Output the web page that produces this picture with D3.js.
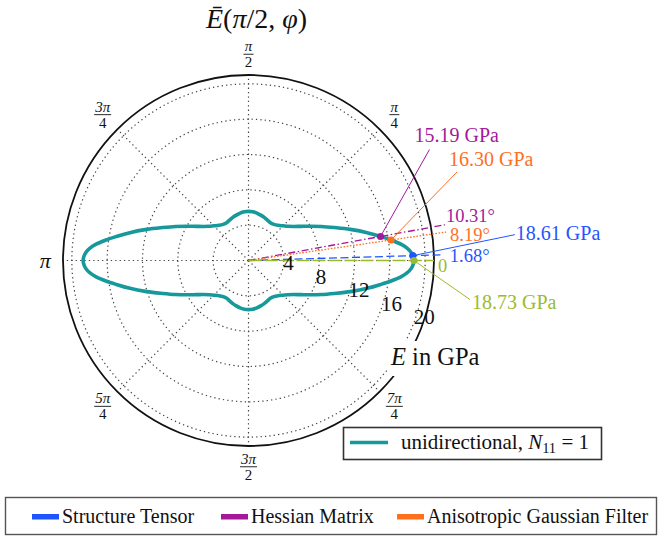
<!DOCTYPE html>
<html>
<head>
<meta charset="utf-8">
<script src="https://cdn.jsdelivr.net/npm/d3@7/dist/d3.min.js"></script>
<style>
  html, body { margin: 0; padding: 0; background: #fff; }
  svg { display: block; }
  text { font-family: "Liberation Serif", "Times New Roman", serif; fill: #111; }
</style>
</head>
<body>
<svg id="chart" width="662" height="541"></svg>
<script>
// Directional Young's modulus E(pi/2, phi) of the unidirectional layup, first quadrant
// (the curve is mirror-symmetric about both axes).
const phiDeg  = [0, 1.68, 3, 4.5, 6, 8.19, 10.31, 13, 17, 21, 25, 29, 33, 37, 41, 45, 50, 55, 60, 65, 70, 75, 80, 85, 90];
const modulus = [18.73, 18.61, 18.4, 18.0, 17.4, 16.30, 15.19, 13.9, 12.05, 10.4, 9.1, 8.0, 7.1, 6.4, 5.9, 5.55, 5.2, 5.0, 4.95, 5.05, 5.2, 5.32, 5.45, 5.53, 5.56];

// Fibre orientation found by each method
const methods      = ["Structure Tensor", "Hessian Matrix", "Anisotropic Gaussian Filter", "reference"];
const methodAngle  = [1.68, 10.31, 8.19, 0];
const methodE      = [18.61, 15.19, 16.30, 18.73];
const angleLabels  = ["1.68°", "10.31°", "8.19°", "0"];
const valueLabels  = ["18.61 GPa", "15.19 GPa", "16.30 GPa", "18.73 GPa"];

// Axis ticks
const radialTicks = [4, 8, 12, 16, 20];
const angularTicks = [
  {deg: 0,   num: null, den: null},
  {deg: 45,  num: "π",  den: "4"},
  {deg: 90,  num: "π",  den: "2"},
  {deg: 135, num: "3π", den: "4"},
  {deg: 180, num: "π",  den: null},
  {deg: 225, num: "5π", den: "4"},
  {deg: 270, num: "3π", den: "2"},
  {deg: 315, num: "7π", den: "4"}
];

const svg = d3.select("#chart");
const cx = 248.5, cy = 260.5;
const rMax = 21;
const r = d3.scaleLinear().domain([0, rMax]).range([0, 185.5]);
const rad = d => d * Math.PI / 180;
const px = (e, deg) => cx + r(e) * Math.cos(rad(deg));
const py = (e, deg) => cy - r(e) * Math.sin(rad(deg));

const colors = {
  teal: "#16999a",
  "Structure Tensor": "#1f55ff",
  "Hessian Matrix": "#a3199a",
  "Anisotropic Gaussian Filter": "#ff6f1c",
  reference: "#9cbb2c"
};
const dashes = {
  "Structure Tensor": "8,3.5",
  "Hessian Matrix": "7,2.5,1.5,2.5",
  "Anisotropic Gaussian Filter": "1.6,1.6",
  reference: "13,3"
};

const g = svg.append("g");

// Grid: dotted rings and spokes
g.selectAll("circle.ring").data(radialTicks).join("circle")
  .attr("class", "ring")
  .attr("cx", cx).attr("cy", cy).attr("r", d => r(d))
  .attr("fill", "none").attr("stroke", "#444").attr("stroke-width", 1.2)
  .attr("stroke-dasharray", "1.3,3.1");

g.selectAll("line.spoke").data(d3.range(0, 360, 45)).join("line")
  .attr("class", "spoke")
  .attr("x1", cx).attr("y1", cy)
  .attr("x2", d => px(rMax, d)).attr("y2", d => py(rMax, d))
  .attr("stroke", "#444").attr("stroke-width", 1.2)
  .attr("stroke-dasharray", "1.3,3.1");

// Outer frame
g.append("circle").attr("cx", cx).attr("cy", cy).attr("r", r(rMax))
  .attr("fill", "none").attr("stroke", "#111").attr("stroke-width", 1.8);

// Full closed curve built from the first-quadrant samples by mirror symmetry
const curvePts = [];
const quad = phiDeg.map((p, i) => ({p, e: modulus[i]}));
quad.forEach(d => curvePts.push({p: d.p, e: d.e}));
quad.slice(0, -1).reverse().forEach(d => curvePts.push({p: 180 - d.p, e: d.e}));
quad.slice(1).forEach(d => curvePts.push({p: 180 + d.p, e: d.e}));
quad.slice(1, -1).reverse().forEach(d => curvePts.push({p: 360 - d.p, e: d.e}));

const radial = d3.lineRadial()
  .angle(d => Math.PI / 2 - rad(d.p))
  .radius(d => r(d.e))
  .curve(d3.curveCatmullRomClosed.alpha(0.5));

g.append("path")
  .attr("transform", `translate(${cx},${cy})`)
  .attr("d", radial(curvePts))
  .attr("fill", "none").attr("stroke", colors.teal).attr("stroke-width", 3.6);

// Orientation rays
const rayEnd = [21.9, 22.6, 22.6, 21.0];
methods.forEach((m, i) => {
  g.append("line")
    .attr("x1", cx).attr("y1", cy)
    .attr("x2", px(rayEnd[i], methodAngle[i])).attr("y2", py(rayEnd[i], methodAngle[i]))
    .attr("stroke", colors[m]).attr("stroke-width", 1.3)
    .attr("stroke-dasharray", dashes[m]);
});

// Leader lines, markers and value labels
const leader = [[102, -21], [49, -87], [66, -68], [56, 39]];
const valueOffset = [[103, -16], [34, -94], [58, -74], [58, 48]];
const angleOffset = [[8, 7], [1, -3], [4, 9], [4, 11]];
methods.forEach((m, i) => {
  const x = px(methodE[i], methodAngle[i]), y = py(methodE[i], methodAngle[i]);
  g.append("line").attr("x1", x).attr("y1", y)
    .attr("x2", x + leader[i][0]).attr("y2", y + leader[i][1])
    .attr("stroke", colors[m]).attr("stroke-width", 1);
  g.append("circle").attr("cx", x).attr("cy", y).attr("r", 3.6).attr("fill", colors[m]);
  g.append("text").attr("x", x + valueOffset[i][0]).attr("y", y + valueOffset[i][1])
    .attr("font-size", 20).style("fill", colors[m]).text(valueLabels[i]);
  const ex = px(rayEnd[i], methodAngle[i]), ey = py(rayEnd[i], methodAngle[i]);
  g.append("text").attr("x", ex + angleOffset[i][0]).attr("y", ey + angleOffset[i][1])
    .attr("font-size", 18.5).style("fill", colors[m]).text(angleLabels[i]);
});

// Radial tick labels along the -22.5 degree direction
g.selectAll("text.rtick").data(radialTicks).join("text")
  .attr("class", "rtick")
  .attr("x", d => px(d, -22.5) + 2).attr("y", d => py(d, -22.5) - 4)
  .attr("font-size", 21).text(d => d);

// Angular tick labels
const angR = 23.35;
angularTicks.forEach(t => {
  if (!t.num) return;
  const x = px(angR, t.deg), y = py(angR, t.deg);
  if (!t.den) {
    g.append("text").attr("x", x + 3).attr("y", y + 7).attr("text-anchor", "middle")
      .attr("font-size", 22).style("font-style", "italic").text(t.num);
    return;
  }
  const w = t.num.length > 1 ? 17 : 10;
  g.append("text").attr("x", x).attr("y", y - 3).attr("text-anchor", "middle")
    .attr("font-size", 15).style("font-style", "italic").text(t.num);
  g.append("line").attr("x1", x - w / 2).attr("x2", x + w / 2).attr("y1", y).attr("y2", y)
    .attr("stroke", "#111").attr("stroke-width", 0.9);
  g.append("text").attr("x", x).attr("y", y + 13).attr("text-anchor", "middle")
    .attr("font-size", 15).text(t.den);
});

// Radial axis title, on a white patch over the frame
g.append("rect").attr("x", 388).attr("y", 341).attr("width", 104).attr("height", 35).attr("fill", "#fff");
const et = g.append("text").attr("x", 391).attr("y", 365).attr("font-size", 24.5);
et.append("tspan").style("font-style", "italic").text("E");
et.append("tspan").text(" in GPa");

// Title
const tt = svg.append("text").attr("x", 256.5).attr("y", 28).attr("text-anchor", "middle").attr("font-size", 28);
tt.append("tspan").style("font-style", "italic").text("Ē");
tt.append("tspan").text("(");
tt.append("tspan").style("font-style", "italic").text("π");
tt.append("tspan").text("/2, ");
tt.append("tspan").style("font-style", "italic").text("φ");
tt.append("tspan").text(")");

// Curve legend
const lg = svg.append("g");
lg.append("rect").attr("x", 343.5).attr("y", 427.5).attr("width", 258).attr("height", 32)
  .attr("fill", "#fff").attr("stroke", "#333").attr("stroke-width", 1.6);
lg.append("line").attr("x1", 350).attr("x2", 388).attr("y1", 442.5).attr("y2", 442.5)
  .attr("stroke", colors.teal).attr("stroke-width", 3.6);
const lt = lg.append("text").attr("x", 401).attr("y", 449).attr("font-size", 21);
lt.append("tspan").text("unidirectional, ");
lt.append("tspan").style("font-style", "italic").text("N");
lt.append("tspan").attr("font-size", 14.5).attr("dy", 4).text("11");
lt.append("tspan").attr("dy", -4).text(" = 1");

// Method legend
const mg = svg.append("g");
mg.append("rect").attr("x", 5.5).attr("y", 497.5).attr("width", 651).attr("height", 37)
  .attr("fill", "#fff").attr("stroke", "#555").attr("stroke-width", 1.4);
const legendX = [32, 221, 397];
methods.slice(0, 3).forEach((m, i) => {
  mg.append("rect").attr("x", legendX[i]).attr("y", 514).attr("width", 27).attr("height", 5.5)
    .attr("fill", colors[m]);
  mg.append("text").attr("x", legendX[i] + 30).attr("y", 523).attr("font-size", 20).text(m);
});
</script>
</body>
</html>
